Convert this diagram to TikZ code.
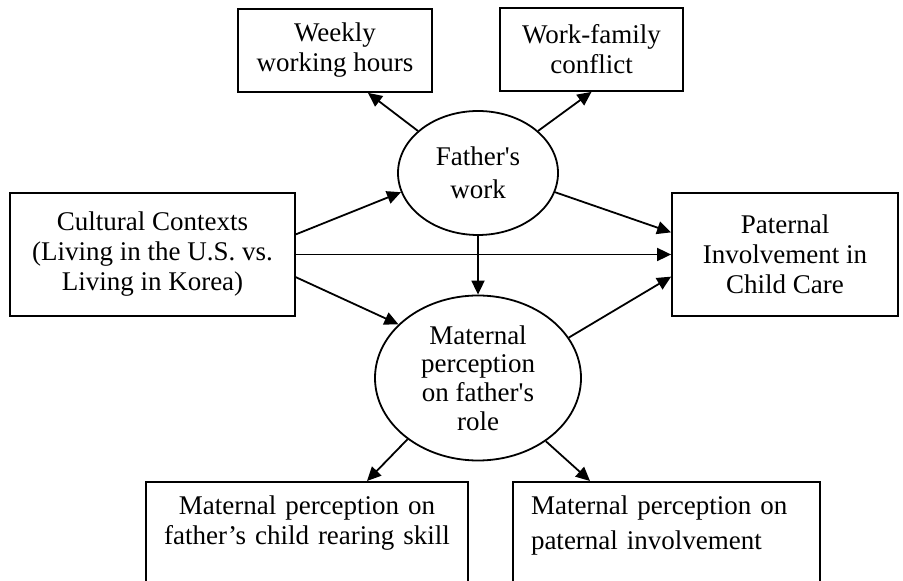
\documentclass[tikz,border=0pt]{standalone}
\usepackage{fontspec}
\setmainfont{Liberation Serif}
\usetikzlibrary{shapes.geometric,arrows.meta}

\newlength{\du}
\setlength{\du}{0.5pt}

\tikzset{
  varbox/.style={rectangle, draw=dialinecolor, line width=0.9pt, align=center,
    font=\fontsize{13.5}{15}\selectfont},
  varoval/.style={ellipse, draw=dialinecolor, line width=0.9pt, inner sep=0pt,
    align=center, font=\fontsize{13.5}{15}\selectfont},
  link/.style={draw=dialinecolor, line width=0.9pt,
    -{Triangle[length=7pt,width=6.5pt]}},
}

\begin{document}
\begin{tikzpicture}
\pgftransformxscale{1.000000}
\pgftransformyscale{-1.000000}
\definecolor{dialinecolor}{rgb}{0.000000, 0.000000, 0.000000}
\useasboundingbox (0\du,0\du) rectangle (903\du,581\du);
\clip (0\du,0\du) rectangle (903\du,581\du);
% top row
\node[varbox, minimum width=194\du, minimum height=83\du] (hours) at (335\du,50.5\du){Weekly\\working hours};
\node[varbox, minimum width=183\du, minimum height=83\du] (conflict) at (591.5\du,49.5\du){Work-family\\conflict};
% middle
\node[varoval, minimum width=160\du, minimum height=124\du, font=\fontsize{13.5}{16.5}\selectfont] (work) at (478\du,173\du){Father\textquotesingle s\\work};
\node[varbox, minimum width=285\du, minimum height=123\du] (culture) at (152.5\du,254.5\du){Cultural Contexts\\(Living in the U.S. vs.\\Living in Korea)};
\node[varbox, minimum width=226\du, minimum height=123\du] (care) at (785\du,254.5\du){Paternal\\Involvement in\\Child Care};
\node[varoval, minimum width=206\du, minimum height=165\du, font=\fontsize{13.5}{14.3}\selectfont] (role) at (478\du,378\du){Maternal\\perception\\on father\textquotesingle s\\role};
% bottom row, cut by the page
\node[varbox, anchor=north, text width=300\du, inner xsep=11\du, inner ysep=13.6\du, text depth=30pt] (skill) at (307\du,481\du){Maternal perception on\\father’s child rearing skill};
\node[varbox, anchor=north, align=left, text width=271\du, inner xsep=18\du, inner ysep=13.6\du, text depth=30pt, font=\fontsize{13.5}{17.5}\selectfont] (involvement) at (666.5\du,481\du){Maternal perception on\\paternal involvement};
% arrows
\draw[link] (work.145) -- ([xshift=33\du]hours.south);
\draw[link] (work.35) -- (conflict.south);
\draw[link] (culture.8) -- (work.194);
\draw[link] (culture.east) -- (care.west);
\draw[link] (culture.-9) -- (role.146);
\draw[link] (work.-14) -- (care.169);
\draw[link] (role.24) -- (care.191);
\draw[link] (work.south) -- (role.north);
\draw[link] (role.221) -- ([xshift=60\du]skill.north);
\draw[link] (role.-43) -- ([xshift=-76.5\du]involvement.north);
\end{tikzpicture}
\end{document}
